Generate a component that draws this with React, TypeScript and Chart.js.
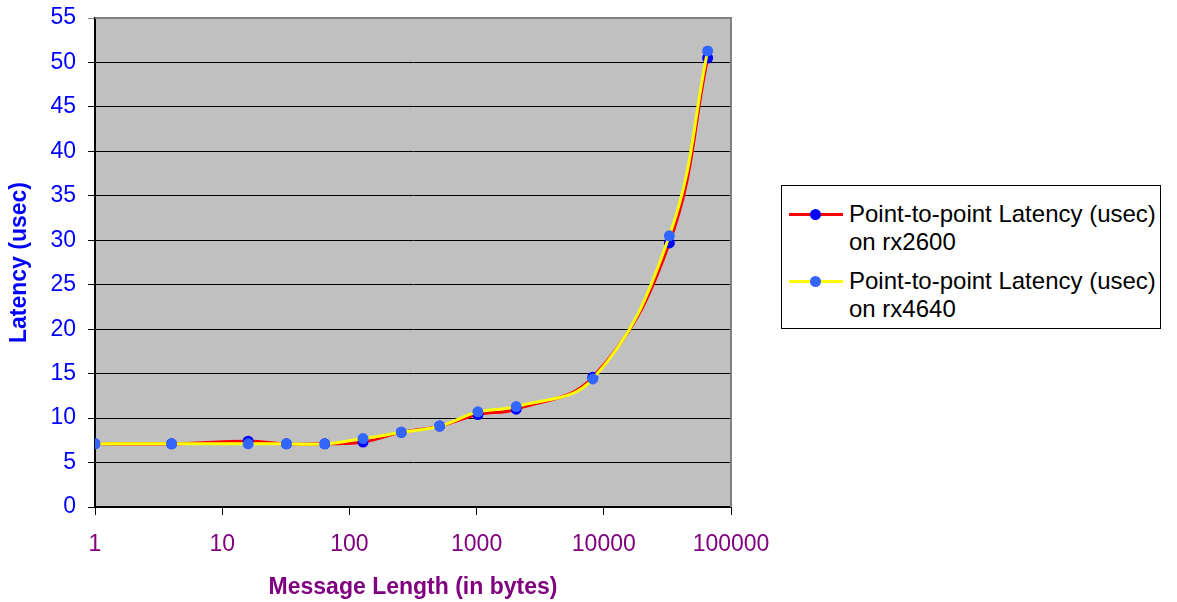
import React, { useEffect, useRef } from "react";
import { Chart, registerables } from "chart.js";

Chart.register(...registerables);

const messageLengths = [1, 4, 16, 32, 64, 128, 256, 512, 1024, 2048, 8192, 32768, 65536];
const latencyRx2600 = [7.1, 7.1, 7.4, 7.1, 7.1, 7.3, 8.4, 9.1, 10.4, 11.0, 14.6, 29.7, 50.5];
const latencyRx4640 = [7.1, 7.1, 7.1, 7.1, 7.1, 7.7, 8.4, 9.1, 10.7, 11.3, 14.4, 30.5, 51.3];
const xTickValues = [1, 10, 100, 1000, 10000, 100000];
const seriesLabels = ["Point-to-point Latency (usec)\non rx2600", "Point-to-point Latency (usec)\non rx4640"];

const FONT = "'Liberation Sans', Arial, Helvetica, sans-serif";

const plotBg = {
  id: "plotBg",
  beforeDraw(chart: any) {
    const { ctx, chartArea: a } = chart;
    ctx.save();
    ctx.fillStyle = "#C0C0C0";
    ctx.fillRect(a.left, a.top, a.right - a.left, a.bottom - a.top);
    ctx.restore();
  },
  beforeDatasetsDraw(chart: any) {
    const { ctx, chartArea: a } = chart;
    ctx.save();
    ctx.strokeStyle = "#808080";
    ctx.lineWidth = 2;
    ctx.beginPath();
    ctx.moveTo(a.left, a.top);
    ctx.lineTo(a.right, a.top);
    ctx.lineTo(a.right, a.bottom);
    ctx.stroke();
    ctx.restore();
  },
};

export default function App() {
  const ref = useRef<HTMLCanvasElement>(null);
  useEffect(() => {
    if (!ref.current) return;
    const chart = new Chart(ref.current, {
      type: "line",
      data: {
        datasets: [
          {
            label: seriesLabels[0],
            data: messageLengths.map((x, i) => ({ x, y: latencyRx2600[i] })),
            borderColor: "#FF0000",
            borderWidth: 3,
            pointBackgroundColor: "#0000FF",
            pointBorderWidth: 0,
            pointRadius: 5.5,
            tension: 0.4,
            order: 1,
          },
          {
            label: seriesLabels[1],
            data: messageLengths.map((x, i) => ({ x, y: latencyRx4640[i] })),
            borderColor: "#FFFF00",
            borderWidth: 3,
            pointBackgroundColor: "#3366FF",
            pointBorderWidth: 0,
            pointRadius: 5.5,
            tension: 0.4,
            order: 0,
          },
        ],
      },
      options: {
        animation: false,
        responsive: false,
        layout: { padding: { top: 18, right: 446, left: 0, bottom: 0 } },
        plugins: { legend: { display: false }, tooltip: { enabled: false } },
        scales: {
          x: {
            type: "logarithmic",
            min: 1,
            max: 100000,
            afterBuildTicks: (s: any) => {
              s.ticks = xTickValues.map((v) => ({ value: v }));
            },
            afterFit: (s: any) => {
              s.height = 95;
              s.paddingLeft = 0;
              s.paddingRight = 0;
            },
            ticks: {
              color: "#800080",
              font: { family: FONT, size: 23 },
              padding: 16,
              autoSkip: false,
              maxRotation: 0,
              callback: (v: any) => String(v),
            },
            grid: { drawOnChartArea: false, color: "#000", tickLength: 8 },
            border: { color: "#000", width: 2 },
            title: {
              display: true,
              text: "Message Length (in bytes)",
              color: "#800080",
              font: { family: FONT, size: 23, weight: "bold" },
              padding: { top: 0, bottom: 1 },
            },
          },
          y: {
            min: 0,
            max: 55,
            afterFit: (s: any) => {
              s.width = 95;
              s.paddingTop = 0;
              s.paddingBottom = 0;
            },
            ticks: {
              stepSize: 5,
              color: "#0000FF",
              font: { family: FONT, size: 23 },
              padding: 12,
            },
            grid: {
              color: (c: any) => (c.tick && c.tick.value === 55 ? "#808080" : "#000"),
              tickLength: 7,
            },
            border: { color: "#000", width: 2 },
            title: {
              display: true,
              text: "Latency (usec)",
              color: "#0000FF",
              font: { family: FONT, size: 23, weight: "bold" },
              padding: { top: 6, bottom: 0 },
            },
          },
        },
      },
      plugins: [plotBg],
    } as any);
    return () => chart.destroy();
  }, []);

  const items = [
    { line: "#FF0000", marker: "#0000FF", text: seriesLabels[0], top: 28 },
    { line: "#FFFF00", marker: "#3366FF", text: seriesLabels[1], top: 95 },
  ];

  return (
    <div style={{ position: "fixed", left: 0, top: 0, width: 1177, height: 602, background: "#fff" }}>
      <canvas ref={ref} width={1177} height={602} style={{ position: "absolute", left: 0, top: 0 }} />
      <div
        style={{
          position: "absolute",
          left: 781,
          top: 185,
          width: 380,
          height: 144,
          border: "1px solid #000",
          boxSizing: "border-box",
          background: "#fff",
          fontFamily: FONT,
          fontSize: 24,
          color: "#000",
        }}
      >
        {items.map((it, i) => (
          <React.Fragment key={i}>
            <div style={{ position: "absolute", left: 7, top: it.top - 1.5, width: 54, height: 3, background: it.line }} />
            <div
              style={{
                position: "absolute",
                left: 33 - 5.5,
                top: it.top - 5.5,
                width: 11,
                height: 11,
                borderRadius: "50%",
                background: it.marker,
              }}
            />
            <div style={{ position: "absolute", left: 67, top: it.top - 14, lineHeight: "28px", whiteSpace: "pre" }}>
              {it.text}
            </div>
          </React.Fragment>
        ))}
      </div>
    </div>
  );
}
